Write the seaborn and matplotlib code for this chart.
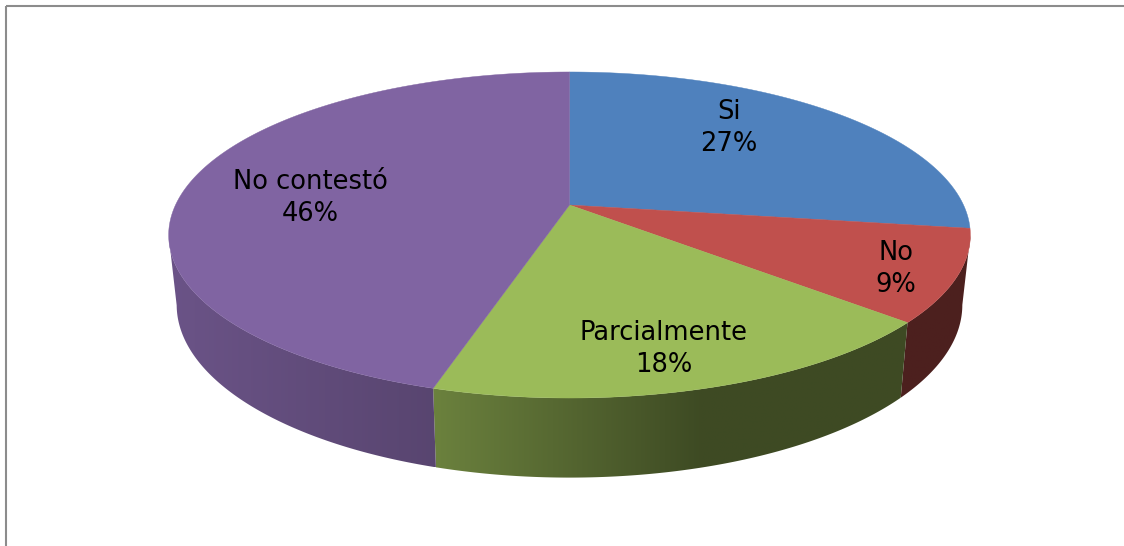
# Fake 3D pie chart, drawn on a full figure axes in pixel units
import numpy as np
import matplotlib
matplotlib.use('Agg')
import matplotlib.pyplot as plt
from matplotlib.patches import Polygon
import seaborn as sns

categories = ['Si', 'No', 'Parcialmente', 'No contestó']
# slice sizes as measured on the picture, labels as printed on it
shares = [27.3, 9.1, 18.2, 45.4]
percent_labels = ['27%', '9%', '18%', '46%']
colors = ['#4F81BD', '#C0504D', '#9BBB59', '#8064A2']

sns.set_theme(style='white')
plt.rcParams['font.family'] = ['DejaVu Sans']
palette = sns.color_palette(colors)

fig = plt.figure(figsize=(11.24, 5.46), dpi=100)
ax = fig.add_axes([0, 0, 1, 1])

# Camera: circle to screen, the apex sits above the middle of the ellipse
APEX_X, APEX_Y = 569.5, 205
A, B, P = 394, 157.5, 0.184


def top_face(theta):
    u, v = np.sin(theta), -np.cos(theta)
    w = 1 - P * v
    return APEX_X + A * u / w, APEX_Y + B * v / w


def bottom_face(theta):
    u, v = np.sin(theta), -np.cos(theta)
    w = 1 - P * v
    return APEX_X + 0.98 * A * u / w, APEX_Y + 68 + 1.06 * B * v / w


def wall_shade(x):
    return np.interp(x, [176, 435, 700], [0.83, 0.69, 0.40])


# slice edges, clockwise from 12 o'clock
edges = np.cumsum([0] + shares) / sum(shares) * 2 * np.pi
slices = list(zip(edges[:-1], edges[1:], palette))

# outer wall first, only the part in front of the widest points shows
for start, end, color in slices:
    th = np.linspace(start, end, 400)
    th = th[np.cos(th) < -P]
    if len(th) < 2:
        continue
    x0, y0 = top_face(th)
    x1, y1 = bottom_face(th[::-1])
    xs, ys = np.r_[x0, x1], np.r_[y0, y1]
    grad_x = np.linspace(xs.min(), xs.max(), 256)
    grad = np.outer(wall_shade(grad_x), np.array(color))[np.newaxis, :, :]
    im = ax.imshow(grad, extent=[xs.min(), xs.max(), ys.max(), ys.min()],
                   aspect='auto', interpolation='bilinear', zorder=1)
    outline = Polygon(np.c_[xs, ys], closed=True, transform=ax.transData,
                      facecolor='none', edgecolor='none')
    ax.add_patch(outline)
    im.set_clip_path(outline)

# top face
for start, end, color in slices:
    th = np.linspace(start, end, 200)
    x, y = top_face(th)
    ax.fill(np.r_[APEX_X, x], np.r_[APEX_Y, y], color=color, lw=0.3, zorder=2)

# labels
label_x = [729, 896, 664, 310]
label_y = [128, 269, 349, 198]
for name, pct, lx, ly in zip(categories, percent_labels, label_x, label_y):
    ax.text(lx, ly, f'{name}\n{pct}', ha='center', va='center', zorder=3,
            fontsize=18.5, color='black', linespacing=1.32)

# chart frame
ax.plot([5.5, 5.5], [546, 5.5], color='#8c8c8c', lw=1.5, solid_capstyle='butt')
ax.plot([5.5, 1124], [5.5, 5.5], color='#8c8c8c', lw=1.5, solid_capstyle='butt')

ax.set_xlim(0, 1124)
ax.set_ylim(546, 0)
ax.axis('off')

fig.savefig('out.png', dpi=100)
